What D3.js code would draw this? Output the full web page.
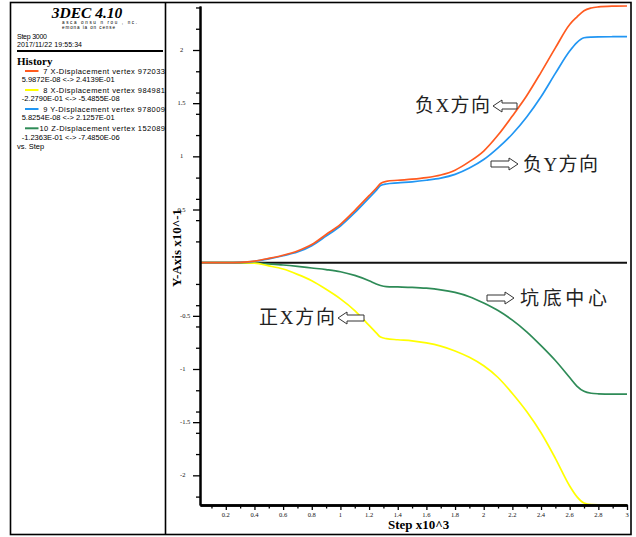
<!DOCTYPE html>
<html>
<head>
<meta charset="utf-8">
<script src="https://cdn.jsdelivr.net/npm/d3@7/dist/d3.min.js"></script>
<style>
  html, body { margin: 0; padding: 0; background: #ffffff; }
  svg { display: block; }
</style>
</head>
<body>
<svg id="chart" width="636" height="537"></svg>
<script>
// ---------------- data (step x10^3, value x10^-1) ----------------
const steps = [0.02, 0.2, 0.3, 0.4, 0.5, 0.6, 0.7, 0.8, 0.9, 1.0, 1.1, 1.2, 1.25, 1.28, 1.32, 1.4, 1.5, 1.6, 1.7, 1.8, 1.9, 2.0, 2.1, 2.2, 2.3, 2.4, 2.5, 2.6, 2.65, 2.7, 2.75, 2.8, 2.9, 3.0];
const xDispNeg = [0, 0, 0.003, 0.015, 0.04, 0.07, 0.11, 0.17, 0.265, 0.36, 0.49, 0.63, 0.70, 0.745, 0.765, 0.775, 0.785, 0.80, 0.825, 0.87, 0.95, 1.05, 1.20, 1.38, 1.57, 1.79, 2.02, 2.24, 2.31, 2.37, 2.395, 2.405, 2.412, 2.4139];
const xDispPos = [0, 0, 0, -0.005, -0.03, -0.06, -0.11, -0.17, -0.25, -0.34, -0.45, -0.59, -0.66, -0.70, -0.715, -0.725, -0.735, -0.755, -0.785, -0.83, -0.89, -0.97, -1.08, -1.23, -1.40, -1.60, -1.84, -2.10, -2.20, -2.26, -2.276, -2.278, -2.279, -2.279];
const yDispNeg = [0, 0, 0.002, 0.012, 0.035, 0.065, 0.10, 0.16, 0.25, 0.345, 0.47, 0.61, 0.68, 0.725, 0.74, 0.75, 0.76, 0.775, 0.795, 0.83, 0.89, 0.97, 1.08, 1.21, 1.37, 1.56, 1.78, 1.99, 2.07, 2.115, 2.122, 2.124, 2.125, 2.1257];
const zDispCtr = [0, 0, 0, -0.003, -0.012, -0.022, -0.035, -0.05, -0.065, -0.085, -0.12, -0.17, -0.20, -0.215, -0.225, -0.228, -0.232, -0.24, -0.255, -0.28, -0.32, -0.38, -0.45, -0.54, -0.65, -0.78, -0.92, -1.08, -1.16, -1.21, -1.228, -1.233, -1.236, -1.2363];

const seriesNames = ["7 X-Displacement vertex 972033", "8 X-Displacement vertex 984981", "9 Y-Displacement vertex 978009", "10 Z-Displacement vertex 152089"];
const seriesRanges = ["5.9872E-08 <-> 2.4139E-01", "-2.2790E-01 <-> -5.4855E-08", "5.8254E-08 <-> 2.1257E-01", "-1.2363E-01 <-> -7.4850E-06"];
const seriesColors = ["#ff5a1f", "#ffff00", "#2196f3", "#2e8b57"];
const seriesValues = [xDispNeg, xDispPos, yDispNeg, zDispCtr];

const yMajorTicks = [-2, -1.5, -1, -0.5, 0.5, 1, 1.5, 2];
const yMinorTicks = [-2.2, -1.8, -1.6, -1.4, -1.2, -0.8, -0.6, -0.4, -0.2, 0.2, 0.4, 0.6, 0.8, 1.2, 1.4, 1.6, 1.8, 2.2, 2.4];
const xLabelTicks = [0.2, 0.4, 0.6, 0.8, 1, 1.2, 1.4, 1.6, 1.8, 2, 2.2, 2.4, 2.6, 2.8, 3];
const xMinorTicks = [0.1, 0.3, 0.5, 0.7, 0.9, 1.1, 1.3, 1.5, 1.7, 1.9, 2.1, 2.3, 2.5, 2.7, 2.9];

const annotations = [
  { text: "负X方向", side: "right" },
  { text: "负Y方向", side: "left" },
  { text: "坑底中心", side: "left" },
  { text: "正X方向", side: "right" }
];

// ---------------- drawing ----------------
const svg = d3.select("#chart");
const serif = "'Liberation Serif', 'DejaVu Serif', serif";
const sans = "'Liberation Sans', Arial, sans-serif";
const cjk = "'Liberation Serif', 'Noto Sans CJK SC', serif";

const x = d3.scaleLinear().domain([steps[0], steps[steps.length - 1]]).range([200, 627]);
const yMin = d3.min(xDispPos), yMax = d3.max(xDispNeg);
const y = d3.scaleLinear().domain([yMin, yMax]).range([505, 6]);

// frames
svg.append("rect").attr("x", 10.5).attr("y", 2.5).attr("width", 620.5).attr("height", 532)
  .attr("fill", "none").attr("stroke", "#000").attr("stroke-width", 1.6);
svg.append("line").attr("x1", 165.5).attr("x2", 165.5).attr("y1", 2.5).attr("y2", 534.5)
  .attr("stroke", "#000").attr("stroke-width", 1.6);

// ----- left info panel -----
svg.append("clipPath").attr("id", "leftclip").append("rect")
  .attr("x", 11).attr("y", 3).attr("width", 154).attr("height", 530);
const lp = svg.append("g").attr("clip-path", "url(#leftclip)");

lp.append("text").attr("x", 87).attr("y", 18).attr("text-anchor", "middle")
  .attr("font-family", serif).attr("font-weight", "bold").attr("font-style", "italic")
  .attr("font-size", 15.5).text("3DEC 4.10");
lp.append("text").attr("x", 62).attr("y", 24).attr("font-family", sans).attr("font-size", 4.6)
  .attr("textLength", 75).text("asca onsu n  rou , nc.");
lp.append("text").attr("x", 62).attr("y", 28.5).attr("font-family", sans).attr("font-size", 4.6)
  .attr("textLength", 53).text("emona ia on  cense");
lp.append("text").attr("x", 17).attr("y", 39).attr("font-family", sans).attr("font-size", 7)
  .attr("textLength", 30).text("Step 3000");
lp.append("text").attr("x", 17).attr("y", 46.5).attr("font-family", sans).attr("font-size", 7)
  .attr("textLength", 65).text("2017/11/22 19:55:34");
lp.append("line").attr("x1", 17).attr("x2", 163).attr("y1", 51).attr("y2", 51)
  .attr("stroke", "#000").attr("stroke-width", 2);
lp.append("text").attr("x", 17).attr("y", 65).attr("font-family", serif).attr("font-weight", "bold")
  .attr("font-size", 11).text("History");

const rowY = [71, 90, 109, 128.3];
seriesNames.forEach((name, i) => {
  lp.append("line").attr("x1", 25).attr("x2", 38.5).attr("y1", rowY[i]).attr("y2", rowY[i])
    .attr("stroke", seriesColors[i]).attr("stroke-width", 2);
  lp.append("text").attr("x", i === 3 ? 39.5 : 43.3).attr("y", rowY[i] + 2.7)
    .attr("font-family", sans).attr("font-size", 7.5)
    .attr("textLength", i === 3 ? 125.5 : 121.7).text(name);
  lp.append("text").attr("x", 21.7).attr("y", rowY[i] + 11.3)
    .attr("font-family", sans).attr("font-size", 7.5)
    .text(seriesRanges[i]);
});
lp.append("text").attr("x", 17).attr("y", 148.5).attr("font-family", sans).attr("font-size", 7.5)
  .text("vs. Step");

// zero line
svg.append("line").attr("x1", x(steps[0])).attr("x2", x(steps[steps.length - 1]))
  .attr("y1", y(0)).attr("y2", y(0)).attr("stroke", "#111").attr("stroke-width", 2);

// curves
const line = d3.line().x(d => x(d[0])).y(d => y(d[1])).curve(d3.curveMonotoneX);
[3, 1, 2, 0].forEach(i => {
  const pts = steps.map((s, k) => [s, seriesValues[i][k]]);
  svg.append("path").attr("d", line(pts)).attr("fill", "none")
    .attr("stroke", seriesColors[i]).attr("stroke-width", 1.7);
});

// ----- axes (drawn over the curves) -----
const yAxisMajor = d3.axisLeft(y).tickValues(yMajorTicks).tickSize(7).tickSizeOuter(0).tickFormat("");
const yAxisMinor = d3.axisLeft(y).tickValues(yMinorTicks).tickSize(4).tickSizeOuter(0).tickFormat("");
const gy1 = svg.append("g").attr("transform", "translate(200,0)").call(yAxisMajor);
const gy2 = svg.append("g").attr("transform", "translate(200,0)").call(yAxisMinor);
[gy1, gy2].forEach(g => {
  g.select(".domain").attr("stroke", "#000").attr("stroke-width", 2);
  g.selectAll(".tick line").attr("stroke", "#000").attr("stroke-width", 1.3);
});

const xAxisMajor = d3.axisBottom(x).tickValues(xLabelTicks).tickSize(5).tickSizeOuter(0).tickFormat("");
const xAxisMinor = d3.axisBottom(x).tickValues(xMinorTicks).tickSize(3.5).tickSizeOuter(0).tickFormat("");
const gx1 = svg.append("g").attr("transform", "translate(0,505)").call(xAxisMajor);
const gx2 = svg.append("g").attr("transform", "translate(0,505)").call(xAxisMinor);
[gx1, gx2].forEach(g => {
  g.select(".domain").attr("stroke", "#000").attr("stroke-width", 2.4);
  g.selectAll(".tick line").attr("stroke", "#000").attr("stroke-width", 1.3);
});

// tick labels
const fmt = d => String(+d.toFixed(1));
svg.append("g").selectAll("text").data(yMajorTicks).join("text")
  .attr("x", d => d > 0 ? 181.5 : 180)
  .attr("y", d => y(d) + 2)
  .attr("text-anchor", d => d > 0 ? "middle" : "start")
  .attr("font-family", serif).attr("font-size", 6.5).attr("fill", "#111")
  .text(d => fmt(d));
svg.append("g").selectAll("text").data(xLabelTicks).join("text")
  .attr("x", d => x(d)).attr("y", 517)
  .attr("text-anchor", "middle")
  .attr("font-family", serif).attr("font-size", 6.5).attr("fill", "#111")
  .text(d => fmt(d));

// axis titles
svg.append("text").attr("x", 388).attr("y", 528.5)
  .attr("font-family", serif).attr("font-weight", "bold").attr("font-size", 13)
  .text("Step x10^3");
svg.append("text").attr("transform", "translate(180.5,248) rotate(-90)")
  .attr("text-anchor", "middle")
  .attr("font-family", serif).attr("font-weight", "bold").attr("font-size", 13)
  .text("Y-Axis x10^-1");

// annotations with outline arrows
const annPos = [
  { tx: 415, ty: 112, tw: 75, ax0: 493, ax1: 517, ay: 106 },
  { tx: 523, ty: 171, tw: 75, ax0: 491, ax1: 518, ay: 164 },
  { tx: 520, ty: 305, tw: 87, ax0: 487, ax1: 514, ay: 298 },
  { tx: 259, ty: 324, tw: 76, ax0: 338, ax1: 364, ay: 318 }
];
function arrowPath(x0, x1, cy, dir) {
  const h = 9, hw = 6, sw = 3;
  let p;
  if (dir === "left") {
    p = [[x0, cy], [x0 + h, cy - hw], [x0 + h, cy - sw], [x1, cy - sw], [x1, cy + sw], [x0 + h, cy + sw], [x0 + h, cy + hw]];
  } else {
    p = [[x1, cy], [x1 - h, cy - hw], [x1 - h, cy - sw], [x0, cy - sw], [x0, cy + sw], [x1 - h, cy + sw], [x1 - h, cy + hw]];
  }
  return "M" + p.map(q => q.join(",")).join("L") + "Z";
}
annotations.forEach((a, i) => {
  const p = annPos[i];
  svg.append("text").attr("x", p.tx).attr("y", p.ty)
    .attr("font-family", cjk).attr("font-size", 19).attr("fill", "#222")
    .attr("textLength", p.tw).attr("lengthAdjust", "spacing")
    .text(a.text);
  svg.append("path").attr("d", arrowPath(p.ax0, p.ax1, p.ay, a.side === "right" ? "left" : "right"))
    .attr("fill", "#fff").attr("stroke", "#333").attr("stroke-width", 1);
});
</script>
</body>
</html>
